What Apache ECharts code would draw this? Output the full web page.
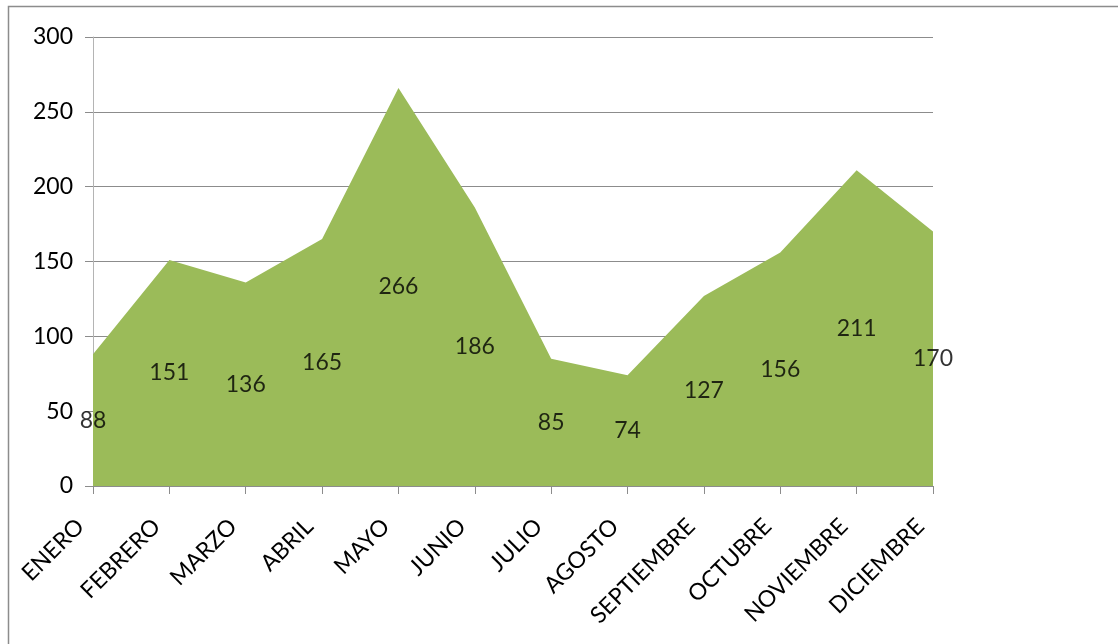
<!DOCTYPE html>
<html>
<head>
<meta charset="utf-8">
<script src="https://cdn.jsdelivr.net/npm/echarts@6/dist/echarts.min.js"></script>
<style>
html,body{margin:0;padding:0;background:#fff;}
#c{width:1118px;height:644px;}
</style>
</head>
<body>
<div id="c"></div>
<script>
const months = ['ENERO','FEBRERO','MARZO','ABRIL','MAYO','JUNIO','JULIO','AGOSTO','SEPTIEMBRE','OCTUBRE','NOVIEMBRE','DICIEMBRE'];
const values = [88,151,136,165,266,186,85,74,127,156,211,170];
const yTicks = {min:0, max:300, interval:50};

const FONT = 'Lato';
const chart = echarts.init(document.getElementById('c'), null, {renderer:'canvas'});
chart.setOption({
  animation:false,
  backgroundColor:'#fff',
  graphic:[{type:'rect', shape:{x:8.5,y:6.5,width:1200,height:700}, style:{fill:'none', stroke:'#8c8c8c', lineWidth:1.5}, silent:true}],
  grid:{left:93, right:185, top:37, bottom:158, containLabel:false},
  xAxis:{
    type:'category', data:months, boundaryGap:false,
    axisLine:{lineStyle:{color:'#8c8c8c', width:1}},
    axisTick:{show:true, alignWithLabel:true, length:8, lineStyle:{color:'#8c8c8c'}},
    axisLabel:{rotate:45, margin:24, padding:[0,18,0,0], color:'#000', fontFamily:FONT, fontSize:23, interval:0},
    splitLine:{show:false}
  },
  yAxis:{
    type:'value', min:yTicks.min, max:yTicks.max, interval:yTicks.interval,
    axisLine:{show:true, lineStyle:{color:'#b4b4b4'}},
    axisTick:{show:true, length:8, lineStyle:{color:'#8c8c8c'}},
    axisLabel:{margin:20, color:'#000', fontFamily:FONT, fontSize:23},
    splitLine:{show:true, lineStyle:{color:'#8c8c8c', width:1}}
  },
  series:[
    {type:'line', data:values, symbol:'none', lineStyle:{width:0, color:'#9BBB59'}, areaStyle:{color:'#9BBB59', opacity:1}, z:2},
    {type:'scatter', data:values.map(v=>v/2), symbolSize:0, z:5,
     label:{show:true, position:'inside', color:'#000', fontFamily:FONT, fontSize:23,
       formatter:p=>String(values[p.dataIndex])}}
  ]
});
</script>
</body>
</html>
